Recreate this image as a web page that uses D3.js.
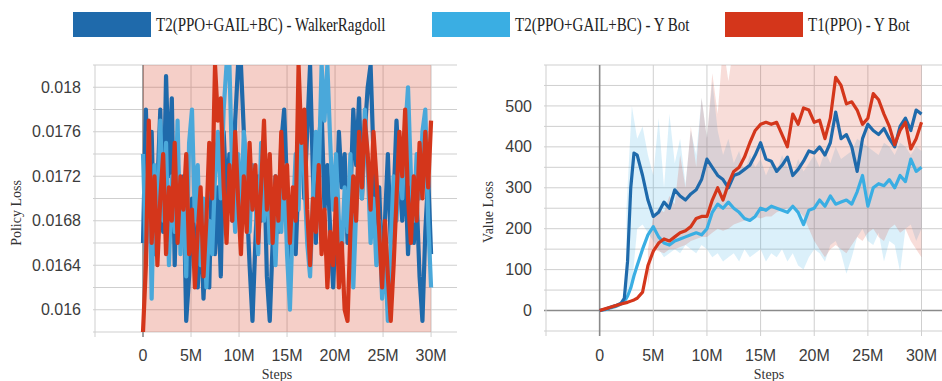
<!DOCTYPE html>
<html>
<head>
<meta charset="utf-8">
<script src="https://cdn.jsdelivr.net/npm/d3@7"></script>
<style>
  html, body { margin: 0; padding: 0; background: #fff; }
  svg { display: block; }
  .tick-label { font-family: "Liberation Sans", Arial, sans-serif; font-size: 16px; fill: #3c3c3c; }
  .axis-title { font-family: "Liberation Serif", "Times New Roman", serif; font-size: 14px; fill: #333; }
  .legend-text { font-family: "Liberation Serif", "Times New Roman", serif; font-size: 15px; fill: #222; }
</style>
</head>
<body>
<svg id="chart" width="942" height="381"></svg>
<script>
// -------------------------
// Data (steps in millions)
// -------------------------
const seriesNames = ["T2(PPO+GAIL+BC) - WalkerRagdoll", "T2(PPO+GAIL+BC) - Y Bot", "T1(PPO) - Y Bot"];
const seriesColors = ["#1f6aab", "#3aaee3", "#d4361b"];

const xTicks = [0, 5, 10, 15, 20, 25, 30];
const xTickLabels = ["0", "5M", "10M", "15M", "20M", "25M", "30M"];

// Policy loss (left)
const policySteps = [0,0.3,0.6,0.9,1.2,1.5,1.8,2.1,2.4,2.7,3,3.3,3.6,3.9,4.2,4.5,4.8,5.1,5.4,5.7,6,6.3,6.6,6.9,7.2,7.5,7.8,8.1,8.4,8.7,9,9.3,9.6,9.9,10.2,10.5,10.8,11.1,11.4,11.7,12,12.3,12.6,12.9,13.2,13.5,13.8,14.1,14.4,14.7,15,15.3,15.6,15.9,16.2,16.5,16.8,17.1,17.4,17.7,18,18.3,18.6,18.9,19.2,19.5,19.8,20.1,20.4,20.7,21,21.3,21.6,21.9,22.2,22.5,22.8,23.1,23.4,23.7,24,24.3,24.6,24.9,25.2,25.5,25.8,26.1,26.4,26.7,27,27.3,27.6,27.9,28.2,28.5,28.8,29.1,29.4,29.7,30];
const policyWalker = [.0166,.0178,.0169,.0176,.0165,.0171,.0178,.0167,.0181,.0172,.0179,.0164,.0174,.0166,.0172,.0159,.0163,.0170,.0166,.0162,.0168,.0161,.0167,.0162,.0174,.0165,.0171,.0163,.0176,.0170,.0174,.0168,.0177,.0182,.0182,.0176,.0170,.0164,.0159,.0166,.0172,.0168,.0174,.0163,.0159,.0166,.0172,.0167,.0175,.0178,.0171,.0163,.0169,.0165,.0172,.0177,.0170,.0176,.0182,.0172,.0166,.0175,.0178,.0169,.0173,.0167,.0162,.0168,.0176,.0171,.0174,.0166,.0170,.0178,.0173,.0179,.0170,.0176,.0180,.0182,.0174,.0167,.0171,.0163,.0168,.0174,.0166,.0170,.0177,.0172,.0168,.0173,.0165,.0171,.0166,.0170,.0163,.0159,.0167,.0172,.0165];
const policyYBotT2 = [.0174,.0165,.0176,.0161,.0173,.0166,.0177,.0168,.0175,.0164,.0172,.0167,.0177,.0165,.0170,.0163,.0175,.0178,.0168,.0173,.0164,.0170,.0162,.0168,.0165,.0172,.0176,.0170,.0178,.0182,.0182,.0172,.0167,.0174,.0169,.0176,.0172,.0167,.0173,.0170,.0165,.0175,.0168,.0172,.0166,.0170,.0164,.0171,.0167,.0173,.0165,.0160,.0168,.0174,.0169,.0177,.0172,.0166,.0163,.0170,.0176,.0172,.0182,.0177,.0182,.0175,.0169,.0174,.0168,.0165,.0171,.0167,.0174,.0162,.0169,.0175,.0170,.0178,.0173,.0166,.0170,.0164,.0168,.0161,.0165,.0159,.0166,.0172,.0168,.0175,.0170,.0176,.0180,.0172,.0168,.0174,.0170,.0176,.0178,.0168,.0162];
const policyYBotT1 = [.0158,.0164,.0177,.0166,.0172,.0164,.0170,.0174,.0165,.0171,.0168,.0175,.0166,.0172,.0169,.0174,.0165,.0169,.0162,.0167,.0171,.0163,.0168,.0175,.0170,.0182,.0177,.0179,.0171,.0166,.0173,.0168,.0176,.0170,.0165,.0172,.0167,.0175,.0169,.0173,.0166,.0171,.0177,.0169,.0174,.0166,.0172,.0168,.0176,.0170,.0173,.0166,.0171,.0168,.0182,.0175,.0178,.0169,.0164,.0170,.0167,.0173,.0165,.0169,.0162,.0167,.0164,.0170,.0162,.0166,.0160,.0159,.0167,.0172,.0168,.0176,.0171,.0177,.0174,.0169,.0176,.0172,.0167,.0162,.0168,.0163,.0159,.0164,.0170,.0176,.0172,.0178,.0170,.0166,.0172,.0168,.0175,.0170,.0176,.0171,.0177];
// raw T1 spread on the policy plot runs past both edges of the view
const policyRawSteps = [0, 30];
const policyRawLo = [0.0150, 0.0150];
const policyRawHi = [0.0190, 0.0190];
const policyTicks = [0.016, 0.0164, 0.0168, 0.0172, 0.0176, 0.018];
const policyTickLabels = ["0.016", "0.0164", "0.0168", "0.0172", "0.0176", "0.018"];

// Value loss (right)
const valueSteps = [0,0.5,1,1.5,2,2.3,2.6,2.9,3.2,3.5,4,4.5,5,5.5,6,6.5,7,7.5,8,8.5,9,9.5,10,10.5,11,11.5,12,12.5,13,13.5,14,14.5,15,15.5,16,16.5,17,17.5,18,18.5,19,19.5,20,20.5,21,21.5,22,22.5,23,23.5,24,24.5,25,25.5,26,26.5,27,27.5,28,28.5,29,29.5,30];
const valueWalker = [0,3,8,12,18,30,120,300,385,380,330,270,230,240,265,250,295,280,270,285,295,320,370,350,330,320,300,330,335,345,355,380,410,370,365,340,355,375,330,345,365,390,385,400,380,410,485,420,430,400,340,420,455,440,430,445,420,400,450,470,440,490,480];
const valueYBotT2 = [0,2,6,10,16,22,35,55,85,110,150,185,205,180,165,160,170,175,180,185,190,185,200,240,260,250,265,250,240,225,220,230,250,245,255,250,245,240,255,240,210,245,250,270,255,280,260,265,270,260,290,330,255,300,310,305,320,300,330,315,370,340,350];
const valueYBotT1 = [0,4,8,12,16,18,20,23,26,30,45,110,145,165,175,170,180,190,195,205,225,230,230,270,300,270,310,340,350,375,410,440,455,460,455,460,430,400,480,455,495,490,460,465,420,470,570,550,505,510,490,455,470,530,515,480,450,405,440,460,395,420,460];

// faint raw spread behind the smoothed curves
const rawSteps = [2.5,3,3.5,4,4.5,5,5.5,6,6.5,7,7.5,8,8.5,9,9.5,10,10.5,11,11.5,12,12.5,13,13.5,14,14.5,15,15.5,16,16.5,17,17.5,18,18.5,19,19.5,20,20.5,21,21.5,22,22.5,23,23.5,24,24.5,25,25.5,26,26.5,27,27.5,28,28.5,29,29.5,30];
const rawBlueLo = [20,60,200,210,190,170,150,130,140,150,140,160,150,140,160,150,130,140,120,130,140,120,150,130,140,150,120,140,130,150,120,140,110,100,130,150,140,120,160,170,140,90,130,180,200,170,160,190,120,170,160,95,200,210,170,200];
const rawBlueHi = [250,500,420,450,380,330,470,300,480,360,420,310,440,380,520,420,560,440,380,420,360,390,340,380,350,370,330,360,340,380,350,330,370,340,360,380,350,390,360,400,370,380,390,420,410,400,390,380,410,400,380,410,400,380,400,390];
const rawRedSteps = [4.5,5,5.5,6,6.5,7,7.5,8,8.5,9,9.5,10,10.5,11,11.5,12,12.5,13,13.5,14,14.5,15,15.5,16,16.5,17,17.5,18,18.5,19,19.5,20,20.5,21,21.5,22,22.5,23,23.5,24,24.5,25,25.5,26,26.5,27,27.5,28,28.5,29,29.5,30];
const rawRedLo = [60,150,145,140,150,150,155,160,170,175,180,180,190,200,195,200,210,215,220,220,230,225,230,230,240,245,250,250,245,230,200,170,150,130,150,160,150,140,160,180,170,190,200,180,170,200,210,190,200,170,150,130];
const rawRedHi = [150,230,250,240,280,260,380,300,450,350,520,420,580,480,650,560,650,600,650,650,650,620,650,650,650,650,650,650,650,650,650,650,650,650,650,650,650,650,650,650,650,650,650,650,650,650,650,650,650,650,650,650];
const valueTicks = [0, 100, 200, 300, 400, 500];

// -------------------------
// Drawing
// -------------------------
const svg = d3.select("#chart");

function drawPanel(cfg) {
    const x = d3.scaleLinear().domain([-5, 32.7]).range(cfg.xRange);
    const y = d3.scaleLinear().domain(cfg.yDomain).range([cfg.bottom, cfg.top]);
    const g = svg.append("g");

    g.append("clipPath").attr("id", cfg.id + "-clip")
        .append("rect")
        .attr("x", cfg.xRange[0]).attr("y", cfg.top)
        .attr("width", cfg.xRange[1] - cfg.xRange[0]).attr("height", cfg.bottom - cfg.top);

    // grid
    const grid = g.append("g");
    grid.selectAll("line.h").data(cfg.gridY).enter().append("line")
        .attr("x1", cfg.xRange[0] - 2).attr("x2", cfg.xRange[1])
        .attr("y1", d => y(d)).attr("y2", d => y(d))
        .attr("stroke", d => d === 0 ? "#8a8a8a" : "#cfcfcf")
        .attr("stroke-width", d => d === 0 ? 1.6 : 1);
    grid.selectAll("line.v").data([-5].concat(xTicks)).enter().append("line")
        .attr("x1", d => x(d)).attr("x2", d => x(d))
        .attr("y1", cfg.top).attr("y2", cfg.bottom + 5)
        .attr("stroke", d => d === 0 ? "#8a8a8a" : "#cfcfcf")
        .attr("stroke-width", d => d === 0 ? 1.6 : 1);

    const plot = g.append("g").attr("clip-path", `url(#${cfg.id}-clip)`);

    // faint raw bands
    cfg.bands.forEach(b => {
        const area = d3.area()
            .x((d, i) => x(b.steps[i]))
            .y0((d, i) => y(b.lo[i]))
            .y1((d, i) => y(b.hi[i]));
        plot.append("path")
            .datum(b.lo)
            .attr("d", area)
            .attr("fill", b.color)
            .attr("fill-opacity", b.opacity);
    });

    // main curves
    cfg.lines.forEach(s => {
        const line = d3.line()
            .x((d, i) => x(cfg.steps[i]))
            .y(d => y(d));
        plot.append("path")
            .datum(s.values)
            .attr("d", line)
            .attr("fill", "none")
            .attr("stroke", s.color)
            .attr("stroke-width", cfg.lineWidth)
            .attr("stroke-linejoin", "round");
    });

    // tick labels
    g.selectAll("text.yt").data(cfg.yTicks).enter().append("text")
        .attr("class", "tick-label")
        .attr("x", cfg.yLabelX)
        .attr("y", d => y(d))
        .attr("dy", "0.35em")
        .attr("text-anchor", "end")
        .text((d, i) => cfg.yTickLabels[i]);
    g.selectAll("text.xt").data(xTicks).enter().append("text")
        .attr("class", "tick-label")
        .attr("x", d => x(d))
        .attr("y", 361)
        .attr("text-anchor", "middle")
        .text((d, i) => xTickLabels[i]);

    // titles
    g.append("text").attr("class", "axis-title")
        .attr("transform", `translate(${cfg.yTitleX},${cfg.yTitleY}) rotate(-90)`)
        .attr("text-anchor", "middle")
        .text(cfg.yTitle);
    g.append("text").attr("class", "axis-title")
        .attr("x", cfg.xTitleX).attr("y", 379)
        .attr("text-anchor", "middle")
        .text("Steps");
}

const policyGrid = d3.range(13).map(i => 0.0158 + i * 0.0002);
drawPanel({
    id: "policy",
    xRange: [95, 457], top: 65, bottom: 332,
    yDomain: [0.0158, 0.0182],
    gridY: policyGrid,
    yTicks: policyTicks, yTickLabels: policyTickLabels,
    yLabelX: 81,
    steps: policySteps,
    lineWidth: 4.2,
    bands: [
        {steps: policyRawSteps, lo: policyRawLo, hi: policyRawHi, color: seriesColors[2], opacity: 0.24}
    ],
    lines: [
        {values: policyWalker, color: seriesColors[0]},
        {values: policyYBotT2, color: "#4aa8da"},
        {values: policyYBotT1, color: seriesColors[2]}
    ],
    yTitle: "Policy Loss", yTitleX: 21, yTitleY: 213,
    xTitleX: 277
});

const valueGrid = d3.range(14).map(i => -50 + i * 50);
drawPanel({
    id: "value",
    xRange: [546, 950.5], top: 65, bottom: 331,
    yDomain: [-50, 600],
    gridY: valueGrid,
    yTicks: valueTicks, yTickLabels: valueTicks.map(String),
    yLabelX: 532,
    steps: valueSteps,
    lineWidth: 3.2,
    bands: [
        {steps: rawSteps, lo: rawBlueLo, hi: rawBlueHi, color: seriesColors[1], opacity: 0.18},
        {steps: rawRedSteps, lo: rawRedLo, hi: rawRedHi, color: seriesColors[2], opacity: 0.17}
    ],
    lines: [
        {values: valueYBotT2, color: seriesColors[1]},
        {values: valueWalker, color: seriesColors[0]},
        {values: valueYBotT1, color: seriesColors[2]}
    ],
    yTitle: "Value Loss", yTitleX: 493, yTitleY: 212,
    xTitleX: 769
});

// -------------------------
// Legend
// -------------------------
const legendX = [73, 432, 725];
const legend = svg.append("g");
seriesNames.forEach((name, i) => {
    legend.append("rect")
        .attr("x", legendX[i]).attr("y", 12)
        .attr("width", 78).attr("height", 25)
        .attr("fill", seriesColors[i]);
    legend.append("text")
        .attr("class", "legend-text")
        .attr("transform", `translate(${legendX[i] + 83},31) scale(1,1.3)`)
        .text(name);
});
</script>
</body>
</html>
